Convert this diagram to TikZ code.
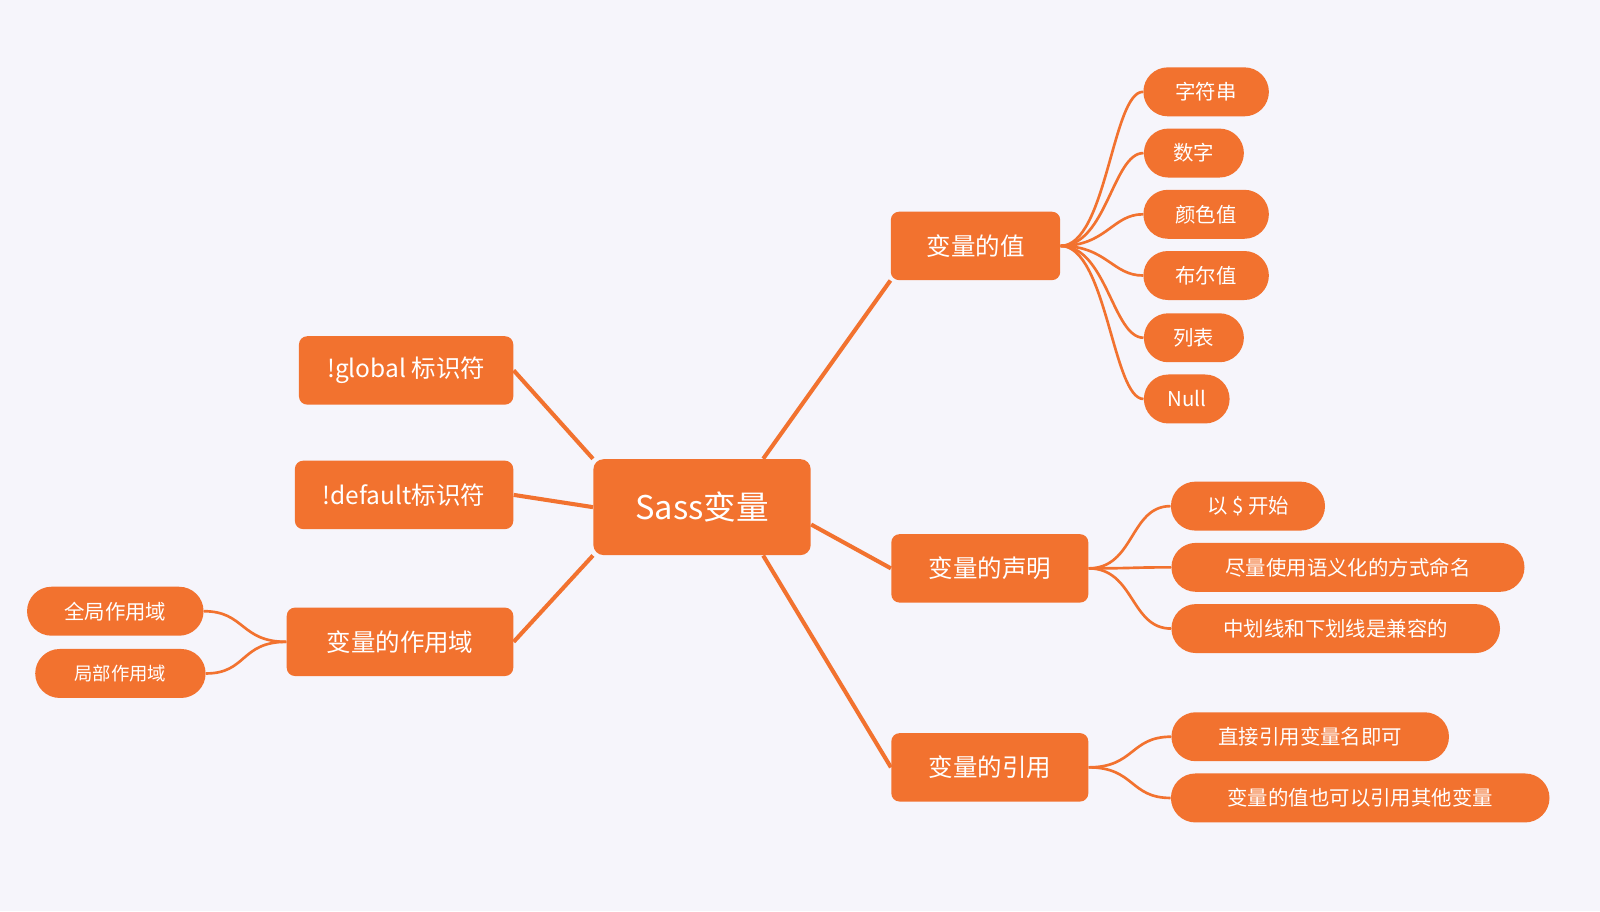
\documentclass[tikz,border=0pt]{standalone}
\usepackage{fontspec}
\setmainfont{Noto Sans CJK SC}
\definecolor{org}{HTML}{F2722F}
\definecolor{bg}{HTML}{F6F5FB}
\begin{document}
\begin{tikzpicture}[x=0.5pt,y=-0.5pt,
  box/.style={fill=org,text=white,rounded corners=4pt,inner sep=0pt,font=\fontsize{12}{14}\selectfont},
  leaf/.style={fill=org,text=white,rounded corners=12pt,inner sep=0pt,minimum height=24pt,font=\fontsize{10}{12}\selectfont},
  main/.style={draw=org,line width=2pt},
  br/.style={draw=org,line width=1.3pt}]
\fill[bg] (0,0) rectangle (1568,893);
\useasboundingbox (0,0) rectangle (1568,893);
\node[box,minimum width=106.5pt,minimum height=47pt,rounded corners=5pt,font=\fontsize{16}{18}\selectfont] (c) at (688,497) {Sass变量};
\node[box,minimum width=83pt,minimum height=33.5pt] (v) at (956,241) {变量的值};
\node[box,minimum width=96.5pt,minimum height=33.5pt] (d) at (970,557) {变量的声明};
\node[box,minimum width=96.5pt,minimum height=33.5pt] (r) at (970,752) {变量的引用};
\node[box,minimum width=105pt,minimum height=33.5pt] (g) at (398,363) {!global 标识符};
\node[box,minimum width=107pt,minimum height=33.5pt] (df) at (396,485) {!default标识符};
\node[box,minimum width=111pt,minimum height=33.5pt] (s) at (392,629) {变量的作用域};
\node[leaf,minimum width=61.5pt] (v1) at (1182,90) {字符串};
\node[leaf,minimum width=49pt] (v2) at (1170,150) {数字};
\node[leaf,minimum width=61.5pt] (v3) at (1182,210) {颜色值};
\node[leaf,minimum width=61.5pt] (v4) at (1182,270) {布尔值};
\node[leaf,minimum width=49pt] (v5) at (1170,331) {列表};
\node[leaf,minimum width=42pt] (v6) at (1163,391) {Null};
\node[leaf,minimum width=75.5pt] (d1) at (1223,496) {以 \$ 开始};
\node[leaf,minimum width=173pt] (d2) at (1321,556) {尽量使用语义化的方式命名};
\node[leaf,minimum width=161pt] (d3) at (1309,616) {中划线和下划线是兼容的};
\node[leaf,minimum width=136pt] (r1) at (1284,722) {直接引用变量名即可};
\node[leaf,minimum width=185.5pt] (r2) at (1333,782) {变量的值也可以引用其他变量};
\node[leaf,minimum width=86.5pt] (s1) at (113,599) {全局作用域};
\node[leaf,minimum width=83.5pt,font=\fontsize{9}{11}\selectfont] (s2) at (118,660) {局部作用域};
\path[main] (c.north east) ++(-47,0) coordinate (c1) -- (v.south west);
\draw[main] (c.east) ++(0,17) -- (d.west);
\draw[main] (c.south east) ++(-47,0) -- (r.west);
\draw[main] (c.north west) -- (g.east);
\draw[main] (c.west) -- (df.east);
\draw[main] (c.south west) -- (s.east);
\foreach \n in {v1,v2,v3,v4,v5,v6}
  \draw[br] (v.east) .. controls +(45,0) and +(-30,0) .. (\n.west);
\foreach \n in {d1,d2,d3}
  \draw[br] (d.east) .. controls +(45,0) and +(-40,0) .. (\n.west);
\foreach \n in {r1,r2}
  \draw[br] (r.east) .. controls +(45,0) and +(-40,0) .. (\n.west);
\foreach \n in {s1,s2}
  \draw[br] (s.west) .. controls +(-45,0) and +(40,0) .. (\n.east);
\end{tikzpicture}
\end{document}
